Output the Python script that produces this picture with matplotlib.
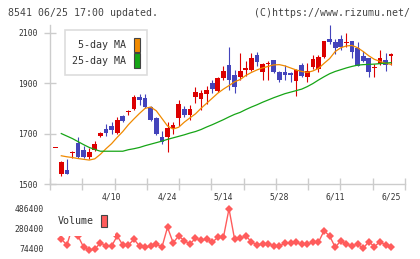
import numpy as np
import matplotlib
matplotlib.use("Agg")
import matplotlib.pyplot as plt
from matplotlib.patches import Patch

# daily candles, index 0 .. 60 (index 60 = 6/25)
opens = [1641, 1541, 1557, 1622, 1661, 1634, 1606, 1636, 1690, 1720, 1730, 1704, 1769, 1784, 1799,
         1845, 1839, 1806, 1760, 1687, 1687, 1723, 1762, 1796, 1775, 1843, 1836, 1856, 1900, 1868,
         1922, 1970, 1931, 1924, 1951, 1951, 2011, 1943, 1975, 1990, 1944, 1942, 1940, 1908, 1970,
         1924, 1964, 1957, 2003, 2076, 2062, 2076, 2060, 2065, 2038, 2006, 2001, 1958, 1974, 1993, 2009]
closes = [1641, 1587, 1541, 1625, 1608, 1608, 1625, 1659, 1703, 1703, 1713, 1753, 1750, 1786, 1845,
          1832, 1806, 1753, 1700, 1667, 1723, 1733, 1819, 1775, 1796, 1865, 1861, 1873, 1876, 1920,
          1948, 1911, 1885, 1948, 1958, 1999, 1982, 1976, 1979, 1944, 1914, 1931, 1930, 1951, 1927,
          1947, 1994, 2003, 2066, 2062, 2039, 2043, 2063, 2022, 1968, 1987, 1944, 1961, 2001, 1970, 2017]
highs = [1641, 1591, 1600, 1632, 1685, 1651, 1641, 1669, 1706, 1736, 1746, 1764, 1773, 1793, 1852,
         1855, 1855, 1808, 1765, 1709, 1746, 1746, 1832, 1810, 1815, 1885, 1872, 1887, 1911, 1924,
         1966, 2043, 1951, 2019, 1987, 2019, 2023, 1979, 1987, 1990, 1946, 1970, 1944, 1955, 1980,
         1980, 2011, 2010, 2068, 2129, 2073, 2089, 2100, 2065, 2062, 2027, 2001, 1977, 2030, 2019, 2019]
lows = [1641, 1533, 1541, 1602, 1602, 1602, 1598, 1632, 1687, 1691, 1700, 1700, 1745, 1774, 1795,
        1815, 1802, 1751, 1696, 1657, 1628, 1700, 1730, 1766, 1753, 1821, 1795, 1819, 1859, 1865,
        1911, 1872, 1861, 1911, 1927, 1948, 1966, 1911, 1914, 1938, 1903, 1911, 1904, 1848, 1924,
        1904, 1957, 1944, 2001, 2056, 2017, 2032, 2043, 1999, 1968, 1983, 1924, 1924, 1970, 1948, 1970]

# moving averages and volume, index 1 .. 60
ma5 = [1612, 1608, 1605, 1601, 1598, 1595, 1600, 1618, 1640, 1660, 1685, 1708, 1735, 1758, 1780,
       1800, 1805, 1790, 1760, 1730, 1718, 1725, 1745, 1762, 1778, 1800, 1820, 1840, 1860, 1876,
       1890, 1905, 1914, 1930, 1942, 1952, 1960, 1966, 1972, 1973, 1968, 1960, 1952, 1946, 1942,
       1948, 1958, 1978, 1997, 2025, 2040, 2047, 2049, 2040, 2025, 2008, 1994, 1986, 1978, 1974]
ma25 = [1700, 1690, 1680, 1668, 1656, 1645, 1637, 1630, 1630, 1630, 1630, 1630, 1636, 1640, 1645,
        1652, 1658, 1664, 1670, 1677, 1683, 1689, 1695, 1702, 1708, 1716, 1726, 1735, 1745, 1755,
        1766, 1776, 1784, 1795, 1805, 1814, 1824, 1833, 1842, 1850, 1858, 1864, 1870, 1876, 1886,
        1898, 1912, 1925, 1937, 1946, 1953, 1960, 1966, 1971, 1973, 1974, 1975, 1977, 1979, 1981]
volume = [175600, 114900, 297100, 206000, 91600, 64300, 71400, 138200, 104800, 104800,
          206000, 114900, 114900, 172600, 104800, 91600, 104800, 125000, 91600, 294100,
          138200, 206000, 158400, 125000, 182700, 165500, 172600, 142200, 192800, 192800,
          481300, 172600, 182700, 206000, 148300, 114900, 125000, 125000, 107800, 104800,
          132100, 132100, 142200, 122000, 122000, 142200, 142200, 259600, 206000, 91600,
          158400, 122000, 104800, 125000, 81500, 148300, 97700, 148300, 114900, 91600]

date_idx = [10, 20, 30, 40, 50, 60]
date_labels = ["4/10", "4/24", "5/14", "5/28", "6/11", "6/25"]
price_ticks = [1500, 1700, 1900, 2100]
vol_ticks = [74400, 280400, 486400]

RED, BLUE = "#dc0000", "#4444bb"
ORANGE, GREEN, VOLC = "#f08a00", "#16a516", "#ff5c5c"
GRID, TXT = "#cccccc", "#333333"
plt.rcParams["font.family"] = ["DejaVu Sans Mono"]

W, H = 420, 259


def box(l, t, r, b):
    return [l / W, 1 - b / H, (r - l) / W, (b - t) / H]


fig = plt.figure(figsize=(W / 100, H / 100), dpi=100)
ax = fig.add_axes(box(50, 25, 405, 184.3))
xlim = (-1.02, 62.48)
ax.set_xlim(*xlim)
ax.set_ylim(1499, 2130)

o, c = np.array(opens), np.array(closes)
x = np.arange(len(o))
cols = np.where(c >= o, RED, BLUE)
ax.vlines(x, lows, highs, colors=cols, linewidth=0.8, zorder=2)
ax.bar(x, np.maximum(np.abs(c - o), 4), bottom=np.minimum(o, c), width=0.84,
       color=cols, linewidth=0, zorder=3)

xm = np.arange(1, len(ma5) + 1)
ax.plot(xm, ma5, color=ORANGE, linewidth=0.9, zorder=4)
ax.plot(xm, ma25, color=GREEN, linewidth=0.9, zorder=4)

for s in ["top", "right"]:
    ax.spines[s].set_visible(False)
for s in ["left", "bottom"]:
    ax.spines[s].set_color(GRID)
    ax.spines[s].set_linewidth(1)

ax.set_xticks(np.linspace(xlim[0], xlim[1], 12))
ax.set_xticklabels([])
ax.tick_params(axis="x", which="major", direction="inout", length=9, width=1, color=GRID)
ax.set_xticks(date_idx, date_labels, minor=True)
ax.tick_params(axis="x", which="minor", length=0, pad=6, labelsize=5.8, labelcolor=TXT)
ax.set_yticks(price_ticks)
ax.tick_params(axis="y", direction="inout", length=8, width=1, color=GRID,
               pad=4.8, labelsize=5.8, labelcolor=TXT)

handles = [Patch(facecolor=ORANGE, edgecolor="#444444", linewidth=0.8, label="5-day MA"),
           Patch(facecolor=GREEN, edgecolor="#444444", linewidth=0.8, label="25-day MA")]
leg = ax.legend(handles=handles, loc="upper left", bbox_to_anchor=(65 / W, 1 - 30 / H),
                bbox_transform=fig.transFigure, borderaxespad=0, markerfirst=False,
                fontsize=7.2, handlelength=0.62, handleheight=1.8, handletextpad=0.7,
                labelspacing=0.17, borderpad=0.75, fancybox=False, framealpha=1,
                edgecolor="#dddddd", labelcolor=TXT)
leg.get_frame().set_linewidth(1.2)
for t in leg.get_texts():
    t.set_ha("right")

# volume panel
vax = fig.add_axes(box(50, 203, 405, 255))
vax.set_xlim(*xlim)
vax.set_ylim(13660, 540060)
vax.plot(xm, volume, color=VOLC, linewidth=1, marker="D", markersize=3.6,
         markeredgewidth=0, zorder=2)
for s in vax.spines.values():
    s.set_visible(False)
vax.set_xticks([])
vax.set_yticks(vol_ticks)
vax.tick_params(axis="y", length=0, pad=4.3, labelsize=5.8, labelcolor=TXT)
vleg = vax.legend(handles=[Patch(facecolor=VOLC, edgecolor="#444444", linewidth=0.8, label="Volume")],
                  loc="upper left", bbox_to_anchor=(49 / W, 1 - 206 / H),
                  bbox_transform=fig.transFigure, borderaxespad=0, markerfirst=False,
                  fontsize=7.2, handlelength=0.62, handleheight=1.6, handletextpad=0.7,
                  borderpad=0.85, fancybox=False, framealpha=1, edgecolor="none",
                  labelcolor=TXT)
vleg.set_zorder(5)

fig.text(8 / W, 1 - 12.7 / H, "8541 06/25 17:00 updated.", fontsize=7.1,
         color="#444444", va="center", ha="left")
fig.text(409.5 / W, 1 - 12.7 / H, "(C)https://www.rizumu.net/", fontsize=7.1,
         color="#444444", va="center", ha="right")

fig.savefig("out.png", dpi=100)
